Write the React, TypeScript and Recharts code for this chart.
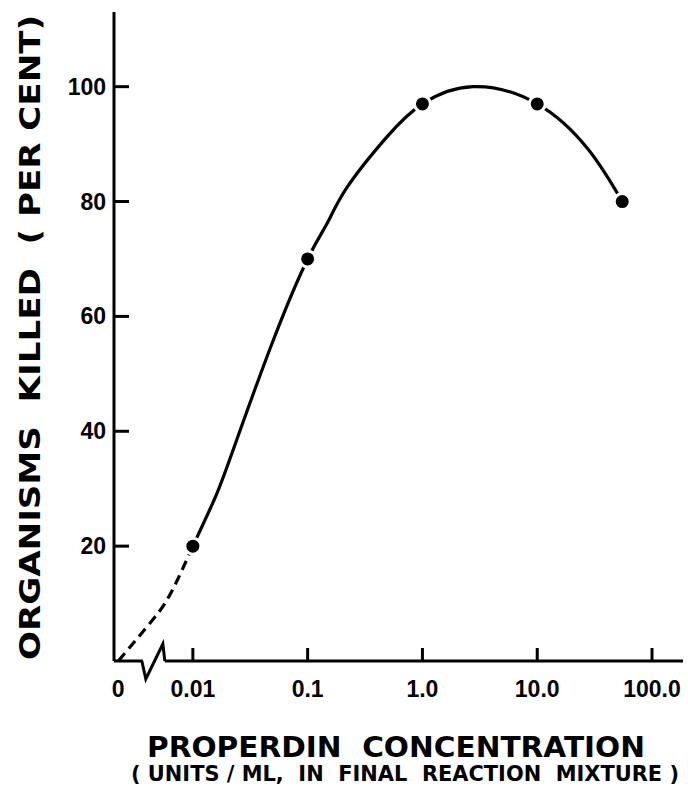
import React from "react";
import {
  ComposedChart,
  Line,
  Scatter,
  XAxis,
  YAxis,
  ReferenceDot,
  Customized,
} from "recharts";

// measured points (units/ml, per cent killed)
const pointConc = [0.01, 0.1, 1.0, 10.0, 55];
const pointKilled = [20, 70, 97, 97, 80];

// fitted curve as drawn in the figure
const curveConc = [0.01, 0.0153, 0.0214, 0.0479, 0.1, 0.148, 0.221, 0.493, 1.0, 2.75, 10, 28, 55];
const curveKilled = [20, 28, 35.6, 54.8, 70, 76.2, 82.5, 91.3, 97, 100, 97, 89, 80];

// dashed extrapolation back to zero
const dashConc = [0, 0.0044, 0.0065, 0.01];
const dashKilled = [0, 7, 12, 20];

const xTickValues = [0, 0.01, 0.1, 1.0, 10.0, 100.0];
const xTickLabels = ["0", "0.01", "0.1", "1.0", "10.0", "100.0"];
const yTicks = [20, 40, 60, 80, 100];

// zero has no place on a log axis, so it sits left of the break
const ZERO_POS = -2.65;
const BREAK_POS = -2.34;
const toPos = (c: number) => (c === 0 ? ZERO_POS : Math.log10(c));

const points = pointConc.map((c, i) => ({ x: toPos(c), y: pointKilled[i] }));
const curve = curveConc.map((c, i) => ({ x: toPos(c), y: curveKilled[i] }));
const dashed = dashConc.map((c, i) => ({ x: toPos(c), y: dashKilled[i] }));
const xTicks = xTickValues.map(toPos);

const FONT = "'DejaVu Sans', sans-serif";
const TICK_FONT = "'Liberation Sans', Arial, sans-serif";

const XTick = (props: any) => {
  const { x, y, payload } = props;
  const idx = xTicks.indexOf(payload.value);
  return (
    <g>
      {idx > 0 && <line x1={x} y1={y} x2={x} y2={y - 13} stroke="#000" strokeWidth={3} />}
      <text
        x={x}
        y={y + 36}
        textAnchor="middle"
        fontFamily={TICK_FONT}
        fontWeight="bold"
        fontSize={23}
        fill="#000"
      >
        {xTickLabels[idx]}
      </text>
    </g>
  );
};

const YTick = (props: any) => {
  const { x, y, payload } = props;
  return (
    <g>
      <line x1={x} y1={y} x2={x + 15} y2={y} stroke="#000" strokeWidth={3} />
      <text
        x={x - 8}
        y={y + 8}
        textAnchor="end"
        fontFamily={TICK_FONT}
        fontWeight="bold"
        fontSize={23}
        fill="#000"
      >
        {payload.value}
      </text>
    </g>
  );
};

const AxisBreak = (props: any) => {
  const { cx, cy } = props;
  return (
    <g>
      <line x1={cx - 11} y1={cy} x2={cx + 11} y2={cy} stroke="#fff" strokeWidth={5} />
      <path
        d={`M${cx - 12},${cy} L${cx - 8},${cy + 18} L${cx + 9},${cy - 17} L${cx + 11},${cy}`}
        fill="none"
        stroke="#000"
        strokeWidth={3}
      />
    </g>
  );
};

const Dot = (props: any) => {
  const { cx, cy } = props;
  return <circle cx={cx} cy={cy} r={8} fill="#000" stroke="#fff" strokeWidth={3} />;
};

const pre = { whiteSpace: "pre" as const };

const Titles = () => (
  <g fontFamily={FONT} fontWeight="bold" fill="#000">
    <text
      transform="translate(40, 660) rotate(-90)"
      fontSize={28}
      textLength={645}
      lengthAdjust="spacingAndGlyphs"
      xmlSpace="preserve"
      style={pre}
    >
      {"ORGANISMS  KILLED  ( PER CENT)"}
    </text>
    <text
      x={147}
      y={757}
      fontSize={28}
      textLength={498}
      lengthAdjust="spacingAndGlyphs"
      xmlSpace="preserve"
      style={pre}
    >
      {"PROPERDIN  CONCENTRATION"}
    </text>
    <text
      x={131}
      y={781}
      fontSize={21}
      textLength={548}
      lengthAdjust="spacingAndGlyphs"
      xmlSpace="preserve"
      style={pre}
    >
      {"( UNITS / ML,  IN  FINAL  REACTION  MIXTURE )"}
    </text>
  </g>
);

export default function App() {
  return (
    <div style={{ position: "absolute", left: 0, top: 0, background: "#fff" }}>
      <ComposedChart
        width={688}
        height={788}
        margin={{ top: 12, right: 5, bottom: 87, left: 0 }}
      >
        <XAxis
          type="number"
          dataKey="x"
          domain={[-2.687, 2.27]}
          ticks={xTicks}
          allowDataOverflow
          height={40}
          tickSize={0}
          tickMargin={0}
          tickLine={false}
          tick={<XTick />}
          axisLine={{ stroke: "#000", strokeWidth: 3 }}
        />
        <XAxis
          xAxisId="top"
          orientation="top"
          type="number"
          domain={[-2.687, 2.27]}
          height={0}
          tick={false}
          tickLine={false}
          axisLine={{ stroke: "#000", strokeWidth: 3 }}
        />
        <YAxis
          type="number"
          domain={[0, 113]}
          ticks={yTicks}
          allowDataOverflow
          width={114}
          tickSize={0}
          tickMargin={0}
          tickLine={false}
          tick={<YTick />}
          axisLine={{ stroke: "#000", strokeWidth: 3 }}
        />
        <YAxis
          yAxisId="right"
          orientation="right"
          domain={[0, 113]}
          width={0}
          tick={false}
          tickLine={false}
          axisLine={{ stroke: "#000", strokeWidth: 3 }}
        />
        <Line
          data={dashed}
          dataKey="y"
          type="natural"
          stroke="#000"
          strokeWidth={3.2}
          strokeDasharray="10 6"
          dot={false}
          isAnimationActive={false}
        />
        <Line
          data={curve}
          dataKey="y"
          type="natural"
          stroke="#000"
          strokeWidth={3.2}
          dot={false}
          isAnimationActive={false}
        />
        <Scatter data={points} dataKey="y" shape={<Dot />} isAnimationActive={false} />
        <ReferenceDot x={BREAK_POS} y={0} ifOverflow="visible" shape={<AxisBreak />} />
        <Customized component={<Titles />} />
      </ComposedChart>
    </div>
  );
}
